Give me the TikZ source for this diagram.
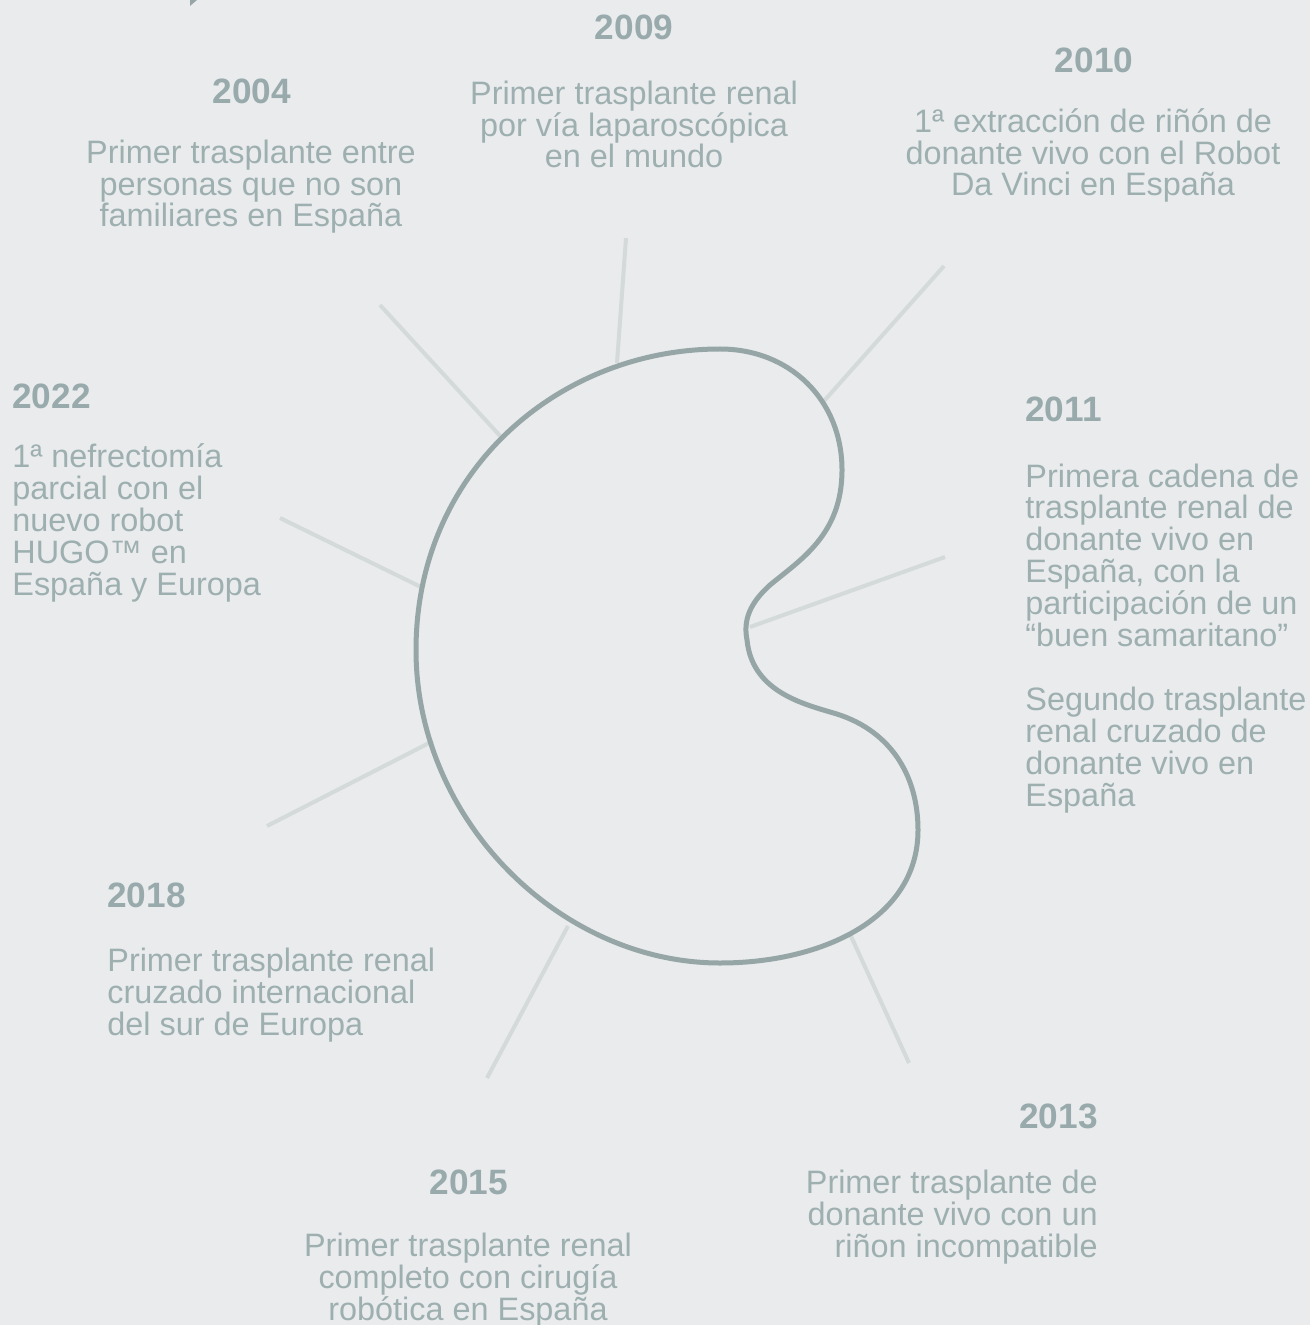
\documentclass[tikz,border=0pt]{standalone}
\usepackage{fontspec}
\setmainfont{Liberation Sans}
\definecolor{bgcol}{RGB}{233,235,237}
\definecolor{yearcol}{RGB}{152,170,171}
\definecolor{textcol}{RGB}{158,175,176}
\definecolor{kidcol}{RGB}{150,165,166}
\definecolor{spokecol}{RGB}{212,218,218}
\begin{document}
\begin{tikzpicture}[x=0.5pt,y=-0.5pt,
  year/.style={font=\bfseries\fontsize{17.6}{18}\selectfont, text=yearcol, inner sep=0pt},
  desc/.style={font=\fontsize{16.2}{15.9}\selectfont, text=textcol, inner sep=0pt},
  spoke/.style={draw=spokecol, line width=2pt},
  kidney/.style={draw=kidcol, line width=2.5pt}]
\fill[bgcol] (0,0) rectangle (1310,1325);
\useasboundingbox (0,0) rectangle (1310,1325);
\fill[kidcol] (190,0) -- (197,0) -- (190,6) -- cycle;
% spokes
\coordinate (s04a) at (380,305); \coordinate (s04b) at (502,438);
\coordinate (s09a) at (626,238); \coordinate (s09b) at (617,363);
\coordinate (s10a) at (944,266); \coordinate (s10b) at (824,401);
\coordinate (s11a) at (945,557); \coordinate (s11b) at (750,627);
\coordinate (s22a) at (280,518); \coordinate (s22b) at (421,587);
\coordinate (s18a) at (267,826); \coordinate (s18b) at (433,741);
\coordinate (s15a) at (487,1078); \coordinate (s15b) at (568,926);
\coordinate (s13a) at (909,1063); \coordinate (s13b) at (850,934);
\foreach \s in {04,09,10,11,22,18,15,13} \draw[spoke] (s\s a) -- (s\s b);
% kidney
\draw[kidney] (720,349) .. controls (790,349) and (842,400) .. (842,470)
  .. controls (842,535) and (800,560) .. (770,585)
  .. controls (750,603) and (743,620) .. (747,640)
  .. controls (752,690) and (800,703) .. (830,712)
  .. controls (890,728) and (918,775) .. (918,830)
  .. controls (918,920) and (820,963) .. (720,963)
  .. controls (560,963) and (416,820) .. (416,650)
  .. controls (416,470) and (560,349) .. (720,349) -- cycle;
% years
\node[year, anchor=base] (y2004) at (252,104) {2004};
\node[year, anchor=base] (y2009) at (634,40) {2009};
\node[year, anchor=base] (y2010) at (1094,73) {2010};
\node[year, anchor=base west] (y2022) at (12,409) {2022};
\node[year, anchor=base west] (y2011) at (1025,422) {2011};
\node[year, anchor=base west] (y2018) at (107,907) {2018};
\node[year, anchor=base] (y2015) at (469,1194) {2015};
\node[year, anchor=base east] (y2013) at (1098,1128) {2013};
% texts (base anchor = baseline of the last line)
\node[desc, align=center, anchor=base] (t2004) at (251,227) {Primer trasplante entre\\personas que no son\\familiares en España};
\node[desc, align=center, anchor=base] (t2009) at (634,168) {Primer trasplante renal\\por vía laparoscópica\\en el mundo};
\node[desc, align=center, anchor=base] (t2010) at (1093,196) {1ª extracción de riñón de\\donante vivo con el Robot\\Da Vinci en España};
\node[desc, align=left, anchor=base west] (t2022) at (12,595) {1ª nefrectomía\\parcial con el\\nuevo robot\\HUGO™ en\\España y Europa};
\node[desc, align=left, anchor=base west] (t2011) at (1025,646) {Primera cadena de\\trasplante renal de\\donante vivo en\\España, con la\\participación de un\\“buen samaritano”};
\node[desc, align=left, anchor=base west] (t2011b) at (1025,806) {Segundo trasplante\\renal cruzado de\\donante vivo en\\España};
\node[desc, align=left, anchor=base west] (t2018) at (107,1035) {Primer trasplante renal\\cruzado internacional\\del sur de Europa};
\node[desc, align=center, anchor=base] (t2015) at (468,1320) {Primer trasplante renal\\completo con cirugía\\robótica en España};
\node[desc, align=right, anchor=base east] (t2013) at (1098,1257) {Primer trasplante de\\donante vivo con un\\riñon incompatible};
\end{tikzpicture}
\end{document}
